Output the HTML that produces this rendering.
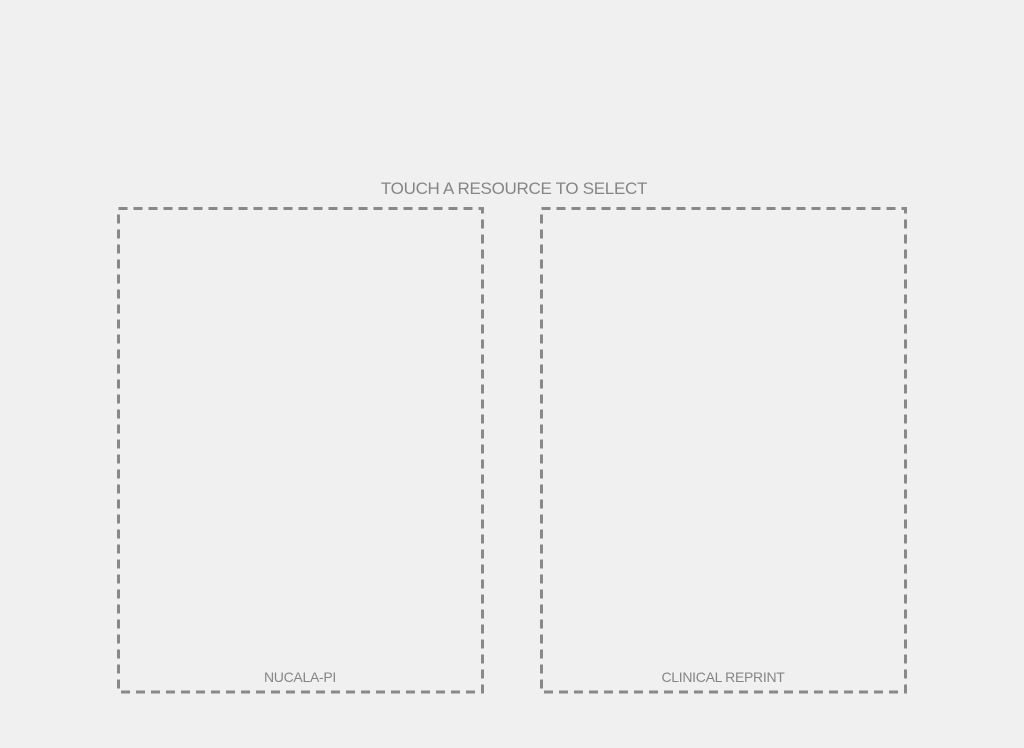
<!DOCTYPE html>
<html><head><meta charset="utf-8"><style>
html,body{margin:0;padding:0;background:#eff0ef;width:1024px;height:748px;overflow:hidden;}
</style></head><body>
<svg width="1024" height="748" xmlns="http://www.w3.org/2000/svg" style="position:absolute;left:0;top:0">
<rect width="1024" height="748" fill="#eff0ef"/>
<text x="514" y="194" text-anchor="middle" font-family="Liberation Sans, sans-serif" font-size="17" fill="#858585" letter-spacing="-0.3">TOUCH A RESOURCE TO SELECT</text>
<rect x="118.5" y="208.5" width="364" height="483.5" fill="none" stroke="#898989" stroke-width="3" stroke-dasharray="9 6"/>
<rect x="541.5" y="208.5" width="364" height="483.5" fill="none" stroke="#898989" stroke-width="3" stroke-dasharray="9 6"/>
<text x="300" y="682" text-anchor="middle" font-family="Liberation Sans, sans-serif" font-size="14" fill="#858585" letter-spacing="-0.3">NUCALA-PI</text>
<text x="723" y="682" text-anchor="middle" font-family="Liberation Sans, sans-serif" font-size="14" fill="#858585" letter-spacing="-0.3">CLINICAL REPRINT</text>
</svg>
</body></html>
